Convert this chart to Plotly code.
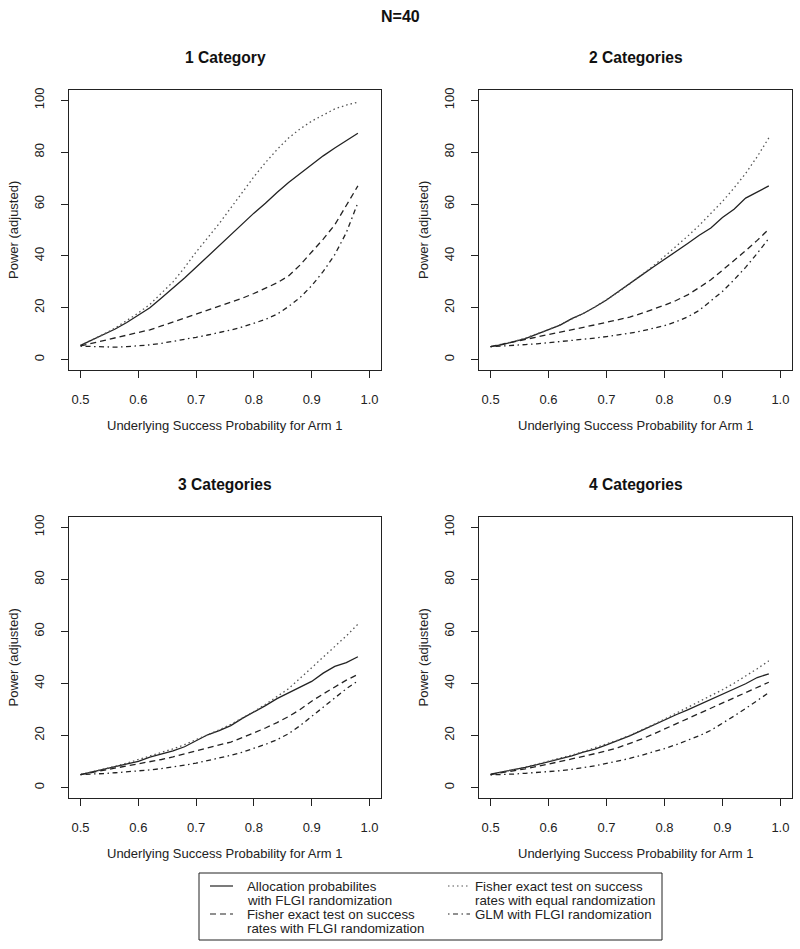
import plotly.graph_objects as go

# ---------------- data ----------------
x_vals = [0.50, 0.52, 0.54, 0.56, 0.58, 0.60, 0.62, 0.64, 0.66, 0.68, 0.70, 0.72, 0.74,
          0.76, 0.78, 0.80, 0.82, 0.84, 0.86, 0.88, 0.90, 0.92, 0.94, 0.96, 0.98]

panel_titles = ["1 Category", "2 Categories", "3 Categories", "4 Categories"]

series_names = [
    "Allocation probabilites with FLGI randomization",
    "Fisher exact test on success rates with equal randomization",
    "Fisher exact test on success rates with FLGI randomization",
    "GLM with FLGI randomization",
]
legend_lines = [
    ["Allocation probabilites", "with FLGI randomization"],
    ["Fisher exact test on success", "rates with equal randomization"],
    ["Fisher exact test on success", "rates with FLGI randomization"],
    ["GLM with FLGI randomization"],
]

# 1 Category
alloc_1 = [5.5, 7.5, 9.5, 11.8, 14.3, 17.2, 20.0, 23.8, 27.5, 31.5, 35.6, 39.8, 44.2,
           48.2, 52.3, 56.5, 60.3, 64.5, 68.3, 71.8, 75.3, 78.6, 81.6, 84.3, 87.3]
fisher_eq_1 = [5.5, 7.6, 9.8, 12.2, 15.0, 18.0, 21.3, 25.5, 30.0, 35.5, 41.5, 47.0, 52.5,
               58.5, 64.5, 70.5, 76.0, 81.0, 85.5, 89.0, 92.0, 94.5, 96.7, 98.2, 99.3]
fisher_flgi_1 = [5.3, 6.3, 7.5, 8.5, 9.5, 10.5, 11.5, 13.0, 14.5, 16.0, 17.6, 19.2, 20.5,
                 22.0, 23.7, 25.5, 27.5, 29.6, 32.3, 36.5, 41.5, 46.5, 52.0, 59.5, 67.0]
glm_1 = [5.2, 5.0, 4.8, 4.8, 5.0, 5.3, 5.7, 6.3, 7.0, 7.8, 8.6, 9.5, 10.4,
         11.4, 12.6, 14.0, 15.5, 17.5, 20.5, 24.0, 28.5, 34.0, 40.5, 49.0, 60.5]

# 2 Categories
alloc_2 = [5.0, 5.8, 6.9, 8.1, 9.8, 11.6, 13.3, 15.8, 17.8, 20.3, 23.0, 26.2, 29.5,
           32.5, 35.6, 38.6, 41.6, 44.8, 48.0, 50.8, 54.8, 58.0, 62.3, 64.5, 67.0]
fisher_eq_2 = [5.0, 5.9, 7.0, 8.3, 9.9, 11.6, 13.5, 15.5, 17.8, 20.3, 23.0, 26.0, 29.2,
               32.5, 36.0, 39.8, 43.6, 47.6, 51.8, 56.3, 61.0, 66.2, 71.8, 78.3, 85.5]
fisher_flgi_2 = [5.0, 5.9, 6.8, 7.7, 8.7, 9.6, 10.5, 11.4, 12.4, 13.4, 14.4, 15.4, 16.4,
                 17.8, 19.3, 21.0, 22.8, 25.0, 27.8, 30.8, 34.5, 38.2, 42.0, 46.0, 50.3]
glm_2 = [5.0, 5.2, 5.5, 5.8, 6.1, 6.5, 6.9, 7.3, 7.8, 8.3, 8.9, 9.5, 10.2,
         11.0, 12.0, 13.1, 14.6, 16.5, 19.0, 22.5, 26.3, 30.8, 35.6, 41.0, 46.7]

# 3 Categories
alloc_3 = [5.0, 6.0, 7.0, 7.9, 8.9, 10.1, 11.7, 12.9, 14.1, 15.7, 18.0, 20.3, 21.9,
           23.8, 26.6, 29.0, 31.5, 34.2, 36.5, 38.6, 40.8, 44.0, 46.6, 48.0, 50.3]
fisher_eq_3 = [5.0, 6.0, 7.1, 8.2, 9.4, 10.7, 12.0, 13.4, 14.9, 16.5, 18.3, 20.2, 22.2,
               24.3, 26.6, 29.2, 32.0, 35.0, 38.0, 42.0, 46.0, 50.0, 54.0, 58.3, 62.8]
fisher_flgi_3 = [5.0, 5.8, 6.6, 7.4, 8.2, 9.0, 9.9, 10.8, 11.8, 12.9, 14.1, 15.2, 16.3,
                 17.5, 19.2, 21.0, 22.9, 25.0, 27.3, 30.0, 33.2, 36.0, 38.8, 41.3, 43.5]
glm_3 = [5.0, 5.1, 5.4, 5.7, 6.0, 6.3, 6.8, 7.3, 7.9, 8.6, 9.4, 10.3, 11.3,
         12.4, 13.6, 15.0, 16.6, 18.4, 20.7, 23.8, 27.4, 31.0, 34.6, 38.0, 41.0]

# 4 Categories
alloc_4 = [5.2, 6.0, 6.9, 7.8, 8.8, 9.9, 11.3, 12.2, 13.6, 14.8, 16.4, 18.0, 19.9,
           21.9, 24.0, 26.1, 28.0, 29.9, 31.9, 33.8, 36.0, 38.0, 39.9, 42.3, 43.7]
fisher_eq_4 = [5.0, 5.9, 6.9, 7.9, 9.0, 10.1, 11.3, 12.5, 13.8, 15.2, 16.7, 18.3, 20.1,
               22.0, 24.1, 26.3, 28.5, 30.7, 32.9, 35.2, 37.6, 40.1, 42.8, 45.7, 48.7]
fisher_flgi_4 = [5.0, 5.7, 6.5, 7.2, 8.1, 9.0, 10.0, 11.0, 12.0, 13.0, 14.1, 15.4, 16.9,
                 18.6, 20.5, 22.5, 24.5, 26.6, 28.7, 30.8, 32.8, 34.8, 36.6, 38.6, 40.5]
glm_4 = [4.9, 5.0, 5.2, 5.5, 5.8, 6.1, 6.5, 7.0, 7.6, 8.4, 9.3, 10.2, 11.2,
         12.4, 13.6, 15.0, 16.5, 18.1, 19.9, 22.0, 24.6, 27.5, 30.4, 33.5, 36.5]

x_ticks = [0.5, 0.6, 0.7, 0.8, 0.9, 1.0]
y_ticks = [0, 20, 40, 60, 80, 100]

panels = [
    [alloc_1, fisher_eq_1, fisher_flgi_1, glm_1],
    [alloc_2, fisher_eq_2, fisher_flgi_2, glm_2],
    [alloc_3, fisher_eq_3, fisher_flgi_3, glm_3],
    [alloc_4, fisher_eq_4, fisher_flgi_4, glm_4],
]

# ---------------- styling / layout ----------------
W, H = 800, 949
INK = "#222222"
FONT = "Liberation Sans, Arial, Helvetica, sans-serif"

styles = [
    dict(color=INK, width=1.3, dash="solid"),
    dict(color="#555555", width=1.3, dash="1.5px,3px"),
    dict(color=INK, width=1.3, dash="6px,4px"),
    dict(color=INK, width=1.3, dash="1.5px,3.5px,5px,3.5px"),
]

# panel boxes in pixels: (left, right, top, bottom)
boxes = [(69, 381, 90, 370), (479, 792, 90, 370),
         (69, 381, 517, 798), (479, 792, 517, 798)]


def px_x(v):
    return v / W


def px_y(v):
    return 1 - v / H


fig = go.Figure()

for p, series in enumerate(panels):
    xa = "x" if p == 0 else f"x{p+1}"
    ya = "y" if p == 0 else f"y{p+1}"
    for s, vals in enumerate(series):
        fig.add_trace(go.Scatter(
            x=x_vals, y=vals, mode="lines", name=series_names[s],
            line=styles[s], xaxis=xa, yaxis=ya,
            showlegend=False, hoverinfo="skip"))

layout = dict(
    width=W, height=H,
    margin=dict(l=0, r=0, t=0, b=0, autoexpand=False),
    paper_bgcolor="white", plot_bgcolor="white",
    font=dict(family=FONT, size=13, color=INK),
    showlegend=False,
)

annotations = []
shapes = []
for p, (l, r, t, b) in enumerate(boxes):
    sfx = "" if p == 0 else str(p + 1)
    layout["xaxis" + sfx] = dict(
        domain=[px_x(l), px_x(r)], range=[0.48, 1.02],
        tickvals=x_ticks, ticktext=[f"{v:.1f}" for v in x_ticks],
        ticks="outside", ticklen=7, tickwidth=1, tickcolor=INK,
        showline=True, linecolor=INK, linewidth=1, mirror=True,
        showgrid=False, zeroline=False, anchor="y" + sfx,
        tickfont=dict(size=13, color=INK), ticklabelstandoff=10,
        fixedrange=True)
    layout["yaxis" + sfx] = dict(
        domain=[px_y(b), px_y(t)], range=[-4, 104],
        tickvals=y_ticks, ticktext=[str(v) for v in y_ticks], tickangle=-90,
        ticks="outside", ticklen=7, tickwidth=1, tickcolor=INK,
        showline=True, linecolor=INK, linewidth=1, mirror=True,
        showgrid=False, zeroline=False, anchor="x" + sfx,
        tickfont=dict(size=13, color=INK), ticklabelstandoff=12,
        fixedrange=True)
    cx = (l + r) / 2
    annotations.append(dict(text=f"<b>{panel_titles[p]}</b>", x=px_x(cx), y=px_y(t - 33),
                            xref="paper", yref="paper", showarrow=False,
                            xanchor="center", yanchor="middle",
                            font=dict(size=15.6, color="#111111", family=FONT)))
    annotations.append(dict(text="Underlying Success Probability for Arm 1",
                            x=px_x(cx), y=px_y(b + 55),
                            xref="paper", yref="paper", showarrow=False,
                            xanchor="center", yanchor="middle",
                            font=dict(size=13, color=INK, family=FONT)))
    annotations.append(dict(text="Power (adjusted)", textangle=-90,
                            x=px_x(l - 56), y=px_y((t + b) / 2),
                            xref="paper", yref="paper", showarrow=False,
                            xanchor="center", yanchor="middle",
                            font=dict(size=13, color=INK, family=FONT)))

annotations.append(dict(text="<b>N=40</b>", x=0.5, y=px_y(16),
                        xref="paper", yref="paper", showarrow=False,
                        xanchor="center", yanchor="middle",
                        font=dict(size=16, color="#111111", family=FONT)))

# ---------------- legend (two columns, R style) ----------------
LEG_L, LEG_R, LEG_T, LEG_B = 199, 662, 873, 940
shapes.append(dict(type="rect", xref="paper", yref="paper",
                   x0=px_x(LEG_L), x1=px_x(LEG_R), y0=px_y(LEG_B), y1=px_y(LEG_T),
                   line=dict(color=INK, width=1), fillcolor="rgba(0,0,0,0)"))
# order in R (ncol=2 fills by column): solid, dashed | dotted, dashdot
legend_slots = [  # (series index, sample x0, sample x1, text x, first-line y)
    (0, 210, 233, 245, 886),
    (2, 210, 233, 245, 914),
    (1, 448, 470, 473, 886),
    (3, 448, 470, 473, 914),
]
for s, sx0, sx1, tx, ty in legend_slots:
    shapes.append(dict(type="line", xref="paper", yref="paper",
                       x0=px_x(sx0), x1=px_x(sx1), y0=px_y(ty), y1=px_y(ty),
                       line=dict(color=styles[s]["color"], width=1.2,
                                 dash=styles[s]["dash"])))
    for k, txt in enumerate(legend_lines[s]):
        annotations.append(dict(text=txt, x=px_x(tx), y=px_y(ty + 14.5 * k),
                                xref="paper", yref="paper", showarrow=False,
                                xanchor="left", yanchor="middle",
                                font=dict(size=13.3, color=INK, family=FONT)))

layout["annotations"] = annotations
layout["shapes"] = shapes

fig.update_layout(**layout)
fig.write_html("out.html", config={"displayModeBar": False},
               post_script="document.body.style.margin='0';document.body.style.overflow='hidden';")
